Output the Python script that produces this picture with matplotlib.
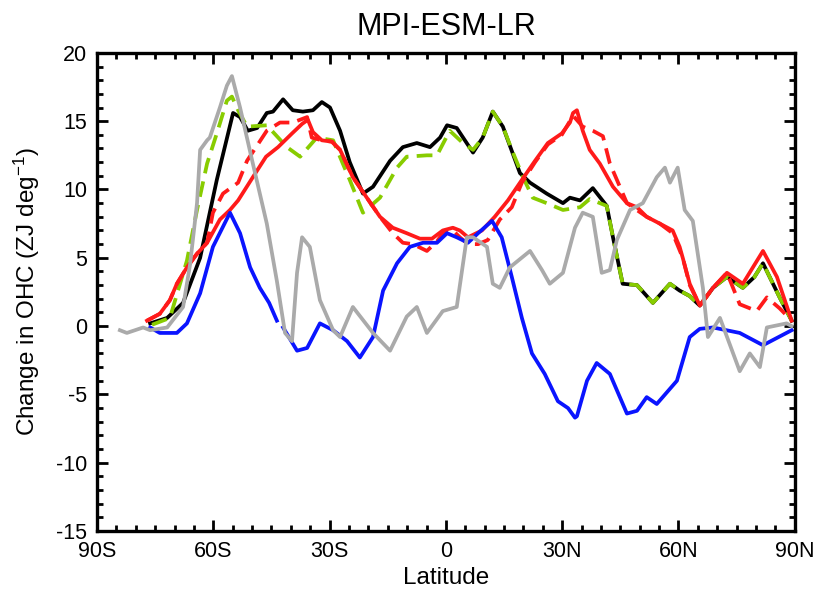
import numpy as np
import matplotlib
matplotlib.use("Agg")
import matplotlib.pyplot as plt
from matplotlib.ticker import MultipleLocator, FixedLocator

plt.rcParams['font.family'] = ['Liberation Sans', 'DejaVu Sans']
plt.rcParams['mathtext.fontset'] = 'custom'
plt.rcParams['mathtext.rm'] = 'Liberation Sans'
plt.rcParams['mathtext.it'] = 'Liberation Sans:italic'
plt.rcParams['axes.unicode_minus'] = False

# --- data (latitude, change in OHC, ZJ/deg) ---
lat_black = [-76.3, -71.9, -67.8, -63.4, -59.1, -54.9, -53.1, -51.1, -48.7, -46.2,
             -44.6, -42.0, -39.5, -36.9, -34.3, -32.0, -29.9, -27.3, -24.8, -21.4,
             -18.8, -14.4, -11.1, -7.5, -4.1, -1.5, 0.3, 2.8, 7.0, 9.5,
             12.1, 14.7, 19.1, 21.7, 26.0, 30.2, 32.0, 34.6, 37.9, 41.5,
             43.1, 45.6, 49.3, 53.4, 57.8, 60.3, 62.9, 65.5, 68.9, 72.5,
             76.6, 79.6, 81.8, 86.1, 89.2]
val_black = [0.2, 0.6, 1.7, 5.0, 10.7, 15.6, 15.3, 14.3, 14.5, 15.6,
             15.7, 16.6, 15.8, 15.7, 15.8, 16.4, 16.0, 14.3, 12.0, 9.7,
             10.2, 12.1, 13.1, 13.4, 13.1, 13.8, 14.7, 14.5, 12.7, 13.8,
             15.7, 14.6, 11.2, 10.5, 9.7, 9.0, 9.4, 9.2, 10.1, 8.8,
             6.5, 3.1, 3.0, 1.7, 3.1, 2.6, 2.2, 1.5, 2.8, 3.6,
             2.8, 3.6, 4.6, 2.1, 0.4]

lat_green = [-75.8, -71.2, -66.8, -64.2, -61.6, -59.1, -56.5, -55.2, -53.6, -51.3,
             -46.2, -41.0, -37.6, -33.3, -29.1, -26.6, -24.8, -21.4, -17.0, -12.6,
             -10.1, -4.9, -2.3, 1.0, 4.4, 7.0, 9.5, 12.1, 14.7, 17.3,
             19.9, 22.4, 26.0, 30.2, 34.6, 37.1, 41.5, 43.1, 45.6, 49.3,
             53.4, 57.8, 60.3, 62.9, 65.5, 68.9, 72.5, 76.6, 79.6, 81.8,
             86.1, 89.2]
val_green = [0.1, 0.6, 4.8, 8.5, 11.9, 14.1, 16.5, 16.8, 15.8, 14.6,
             14.7, 13.1, 12.4, 13.8, 13.6, 11.9, 10.7, 8.3, 9.4, 11.6,
             12.4, 12.5, 12.5, 14.3, 13.4, 12.9, 13.8, 15.7, 14.6, 12.7,
             10.9, 9.4, 9.0, 8.5, 8.7, 9.3, 8.8, 6.5, 3.1, 3.0,
             1.7, 3.1, 2.6, 2.2, 1.5, 2.8, 3.6, 2.8, 3.6, 4.6,
             2.1, 0.4]

lat_red = [-77.1, -73.8, -71.2, -69.4, -66.8, -64.2, -61.6, -58.3, -55.7, -53.6,
           -49.8, -46.4, -43.3, -39.7, -37.1, -35.6, -34.3, -32.0, -29.4, -27.3,
           -24.0, -20.4, -17.0, -13.7, -10.1, -6.7, -3.6, -0.8, 1.8, 3.6,
           5.7, 9.3, 12.6, 16.0, 19.6, 23.0, 26.3, 29.9, 32.0, 32.8,
           33.8, 35.3, 37.1, 39.7, 43.1, 46.7, 49.3, 51.8, 55.2, 58.5,
           60.3, 61.1, 62.9, 65.5, 68.9, 72.5, 76.6, 81.8, 85.4, 89.2]
val_red = [0.4, 0.9, 1.9, 3.1, 4.3, 5.3, 6.1, 7.8, 8.5, 9.2,
           10.9, 12.4, 13.1, 14.1, 14.8, 15.1, 14.2, 13.6, 13.5, 12.9,
           10.9, 9.4, 8.0, 7.2, 6.8, 6.4, 6.4, 7.0, 7.2, 7.0,
           6.5, 7.0, 8.0, 9.2, 10.7, 12.1, 13.4, 14.1, 14.9, 15.6,
           15.8, 14.3, 12.9, 11.9, 10.2, 9.0, 8.7, 8.0, 7.5, 7.0,
           5.8, 5.0, 3.1, 1.5, 2.8, 3.9, 3.1, 5.5, 3.6, 0.4]

lat_red_dash = [-77.1, -73.8, -71.2, -69.4, -66.8, -64.2, -61.6, -60.1, -57.5, -53.6,
                -51.3, -46.2, -42.8, -39.5, -35.8, -34.6, -32.0, -29.4, -27.3, -24.0,
                -20.4, -17.0, -13.7, -11.1, -8.5, -4.9, -2.3, -0.8, 1.8, 3.6,
                5.7, 8.3, 10.8, 13.9, 17.0, 19.6, 23.0, 26.3, 29.9, 32.8,
                35.3, 37.9, 40.5, 42.3, 46.7, 51.8, 55.2, 58.5, 61.1, 62.9,
                65.5, 68.9, 72.5, 75.8, 80.2, 82.8, 86.1, 89.2]
val_red_dash = [0.4, 0.9, 1.9, 3.1, 4.3, 5.3, 6.1, 8.3, 9.7, 10.5,
                12.1, 14.3, 14.9, 14.9, 15.3, 13.8, 13.6, 13.5, 12.9, 10.9,
                9.4, 8.0, 6.8, 6.1, 6.0, 5.5, 6.2, 6.8, 7.0, 6.5,
                6.0, 6.0, 6.3, 7.8, 8.7, 10.5, 12.0, 13.3, 14.0, 15.4,
                14.6, 14.3, 13.9, 11.9, 9.0, 8.0, 7.5, 6.8, 5.0, 3.0,
                1.5, 2.8, 3.9, 1.6, 1.1, 2.1, 1.3, 0.4]

lat_blue = [-76.3, -73.8, -69.4, -66.8, -63.4, -60.1, -55.7, -53.1, -50.5, -48.0,
            -45.6, -43.6, -43.0, -42.0, -38.4, -35.8, -32.5, -29.1, -25.5, -22.2,
            -18.8, -16.2, -12.6, -9.3, -5.9, -2.3, 0.3, 2.8, 5.7, 8.3,
            11.9, 14.4, 17.0, 19.6, 22.2, 25.5, 28.9, 31.5, 33.3, 33.8,
            36.4, 38.9, 42.3, 46.7, 49.3, 51.8, 54.4, 59.6, 62.9, 65.5,
            68.9, 75.8, 81.8, 89.2]
val_blue = [-0.1, -0.5, -0.5, 0.2, 2.4, 5.8, 8.3, 6.8, 4.3, 2.8,
            1.7, 0.4, np.nan, -0.1, -1.8, -1.6, 0.2, -0.3, -1.1, -2.3,
            -0.8, 2.6, 4.6, 5.8, 6.1, 6.1, 6.8, 6.5, 6.1, 6.8,
            7.7, 6.5, 3.6, 0.6, -2.0, -3.5, -5.5, -6.0, -6.7, -6.6,
            -4.0, -2.7, -3.5, -6.4, -6.2, -5.2, -5.7, -4.0, -0.8, -0.2,
            -0.1, -0.5, -1.4, -0.3]

lat_grey = [-84.1, -82.3, -78.1, -76.3, -71.9, -67.8, -66.0, -64.2, -63.4, -61.6,
            -60.9, -58.3, -56.5, -55.2, -53.1, -49.8, -46.2, -43.6, -41.5, -39.7,
            -38.4, -37.1, -35.1, -32.5, -29.1, -27.3, -24.0, -18.8, -14.4, -10.1,
            -7.5, -4.9, -0.8, 2.8, 5.4, 7.0, 10.6, 12.1, 13.9, 16.5,
            21.7, 24.8, 26.8, 30.2, 33.3, 35.3, 37.9, 40.2, 42.3, 44.1,
            47.5, 50.8, 54.4, 56.5, 57.8, 59.8, 61.6, 63.7, 66.3, 67.6,
            70.7, 75.8, 78.4, 81.0, 82.8, 87.9, 89.2]
val_grey = [-0.3, -0.5, -0.1, -0.3, -0.1, 1.4, 4.5, 9.0, 12.9, 13.6,
            13.8, 16.0, 17.6, 18.3, 16.0, 11.9, 7.5, 3.3, -0.5, -1.1,
            3.9, 6.5, 5.8, 1.9, -0.3, -0.8, 1.4, -0.5, -1.8, 0.7,
            1.4, -0.5, 1.1, 1.4, 6.5, 6.5, 5.8, 3.1, 2.8, 4.3,
            5.5, 4.1, 3.1, 3.9, 7.2, 8.3, 8.0, 3.9, 4.1, 6.3,
            8.5, 9.0, 10.9, 11.6, 10.5, 11.6, 8.5, 7.7, 2.8, -0.8,
            0.6, -3.3, -2.0, -3.0, -0.1, 0.2, 0.0]

xtick_pos = [-90, -60, -30, 0, 30, 60, 90]
xtick_lab = ['90S', '60S', '30S', '0', '30N', '60N', '90N']

# --- plot ---
fig = plt.figure(figsize=(8.18, 5.94), dpi=100)
ax = fig.add_axes([0.1186, 0.106, 0.853, 0.805])

lw = 2.7
dash = (4.2, 2.2)
ax.plot(lat_black, val_black, color='black', lw=lw)
ax.plot(lat_green, val_green, color='#88cc00', lw=lw, dashes=dash)
ax.plot(lat_red_dash, val_red_dash, color='#ff1a1a', lw=lw, dashes=dash)
ax.plot(lat_red, val_red, color='#ff1a1a', lw=lw)
ax.plot(lat_blue, val_blue, color='#0a14ff', lw=lw)
ax.plot(lat_grey, val_grey, color='#aaaaaa', lw=lw)

ax.set_xlim(-90, 90)
ax.set_ylim(-15, 20)
ax.xaxis.set_major_locator(FixedLocator(xtick_pos))
ax.set_xticklabels(xtick_lab)
ax.xaxis.set_minor_locator(MultipleLocator(5))
ax.yaxis.set_major_locator(MultipleLocator(5))
ax.yaxis.set_minor_locator(MultipleLocator(1))

ax.tick_params(which='both', direction='in', top=True, right=True, width=2, labelsize=15.5)
ax.tick_params(which='major', length=8, pad=7)
ax.tick_params(which='minor', length=4)
for s in ax.spines.values():
    s.set_linewidth(2.4)

ax.set_xlabel('Latitude', fontsize=17.5, labelpad=4)
ax.set_ylabel('Change in OHC (ZJ deg$^{-1}$)', fontsize=17.5, labelpad=10)
ax.set_title('MPI-ESM-LR', fontsize=22, pad=13)

fig.savefig('out.png', dpi=100)
